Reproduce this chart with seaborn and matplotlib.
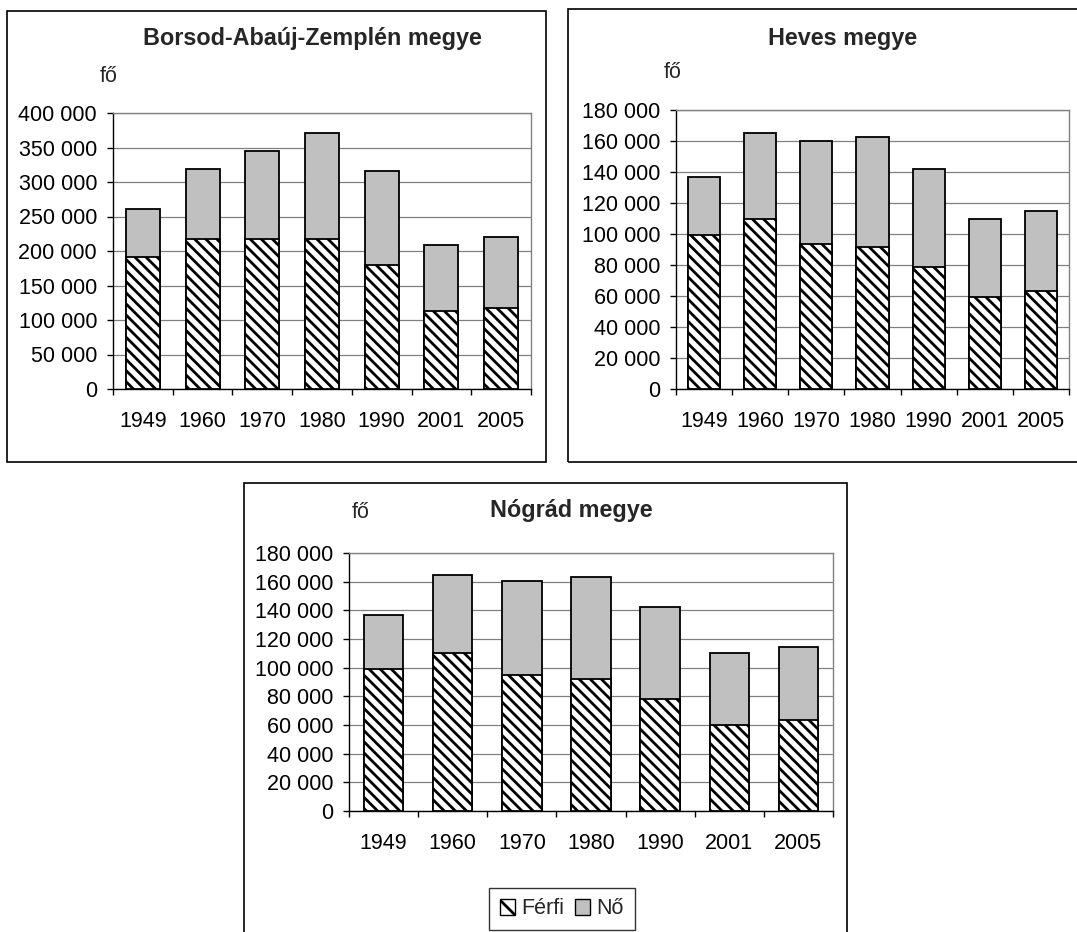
import numpy as np
import pandas as pd
import matplotlib
matplotlib.use("Agg")
import matplotlib.pyplot as plt
import seaborn as sns
from matplotlib.patches import Patch, Rectangle
from matplotlib.ticker import FuncFormatter, MultipleLocator

# data
years = ["1949", "1960", "1970", "1980", "1990", "2001", "2005"]

baz_ferfi = [191000, 217000, 217000, 217000, 180000, 113000, 118000]
baz_no = [70000, 102000, 128000, 154000, 136000, 95500, 102000]

heves_ferfi = [99300, 109500, 93800, 91400, 78700, 59300, 63100]
heves_no = [37500, 55600, 66100, 71100, 63100, 50200, 51800]

nograd_ferfi = [99200, 110100, 95000, 92000, 78300, 60200, 63400]
nograd_no = [37600, 54300, 65700, 71300, 64100, 50100, 51100]

sns.set_theme(style="white")
plt.rcParams["font.family"] = ["Liberation Sans", "DejaVu Sans"]
plt.rcParams["hatch.linewidth"] = 2.0
plt.rcParams["hatch.color"] = "black"

W, H = 1077, 932
fig = plt.figure(figsize=(W / 100, H / 100), dpi=100)
fig.patch.set_facecolor("white")

GRAY = "#c0c0c0"
HATCH = "\\\\\\"
BAR_W = 0.57
TICK_FS = 15.5
TITLE_FS = 16.8


def px_rect(left, top, right, bottom):
    return [left / W, 1 - bottom / H, (right - left) / W, (bottom - top) / H]


def space_fmt(v, pos):
    return f"{int(round(v)):,}".replace(",", " ")


def draw_panel(rect, ferfi, no, ymax, step):
    ax = fig.add_axes(px_rect(*rect))
    df = pd.DataFrame({"ev": years, "ferfi": ferfi, "no": no})
    df["osszes"] = df["ferfi"] + df["no"]
    ax.yaxis.grid(True, color="#808080", linewidth=0.9)
    ax.set_axisbelow(True)
    sns.barplot(data=df, x="ev", y="osszes", order=years, color=GRAY,
                saturation=1, width=BAR_W, edgecolor="black", linewidth=1.3,
                ax=ax, zorder=2)
    sns.barplot(data=df, x="ev", y="ferfi", order=years, color="white",
                saturation=1, width=BAR_W, edgecolor="black", linewidth=1.3,
                hatch=HATCH, ax=ax, zorder=3)
    ax.set_xlim(-0.5, len(years) - 0.5)
    ax.set_ylim(0, ymax)
    ax.yaxis.set_major_locator(MultipleLocator(step))
    ax.yaxis.set_major_formatter(FuncFormatter(space_fmt))
    ax.set_xlabel("")
    ax.set_ylabel("")
    # ticks between categories, labels under the bars
    ax.set_xticks(np.arange(-0.5, len(years), 1))
    ax.set_xticklabels([])
    ax.set_xticks(np.arange(len(years)), minor=True)
    ax.set_xticklabels(years, minor=True)
    ax.tick_params(axis="x", which="major", direction="out", length=4,
                   width=1, color="black", bottom=True)
    ax.tick_params(axis="x", which="minor", length=0, pad=16,
                   labelsize=TICK_FS, labelcolor="black")
    ax.tick_params(axis="y", direction="out", length=4, width=1,
                   color="black", left=True, pad=7.5, labelsize=TICK_FS,
                   labelcolor="black")
    for side in ["left", "bottom"]:
        ax.spines[side].set_color("black")
        ax.spines[side].set_linewidth(1)
    for side in ["top", "right"]:
        ax.spines[side].set_color("#808080")
        ax.spines[side].set_linewidth(1)
    return ax


def frame(left, top, right, bottom):
    fig.add_artist(Rectangle((left / W, 1 - bottom / H), (right - left) / W,
                             (bottom - top) / H, transform=fig.transFigure,
                             fill=False, edgecolor="black", linewidth=1.2,
                             clip_on=False))


# Borsod-Abaúj-Zemplén
frame(7, 11, 546, 462)
draw_panel((113, 113, 531, 389), baz_ferfi, baz_no, 400000, 50000)
fig.text(312 / W, 1 - 39 / H, "Borsod-Abaúj-Zemplén megye", ha="center",
         va="center", fontsize=TITLE_FS, fontweight="bold")
fig.text(109 / W, 1 - 76 / H, "fő", ha="center", va="center", fontsize=TICK_FS)

# Heves
frame(568, 9, 1085, 462)
draw_panel((676, 110, 1069, 389), heves_ferfi, heves_no, 180000, 20000)
fig.text(843 / W, 1 - 38 / H, "Heves megye", ha="center", va="center",
         fontsize=TITLE_FS, fontweight="bold")
fig.text(673 / W, 1 - 72 / H, "fő", ha="center", va="center", fontsize=TICK_FS)

# Nógrád
frame(244, 483, 847, 940)
draw_panel((349, 553, 833, 811), nograd_ferfi, nograd_no, 180000, 20000)
fig.text(571 / W, 1 - 510 / H, "Nógrád megye", ha="center", va="center",
         fontsize=TITLE_FS, fontweight="bold")
fig.text(361 / W, 1 - 513 / H, "fő", ha="center", va="center", fontsize=TICK_FS)

handles = [Patch(facecolor="white", edgecolor="black", hatch="\\", label="Férfi"),
           Patch(facecolor=GRAY, edgecolor="black", label="Nő")]
leg = fig.legend(handles=handles, loc="center", ncol=2,
                 bbox_to_anchor=(562 / W, 1 - 909 / H), fontsize=TICK_FS,
                 frameon=True, fancybox=False, edgecolor="black",
                 handlelength=0.7, handleheight=0.7, handletextpad=0.3,
                 columnspacing=0.5, borderpad=0.5)
leg.get_frame().set_linewidth(1)

fig.savefig("out.png", dpi=100, facecolor="white")
